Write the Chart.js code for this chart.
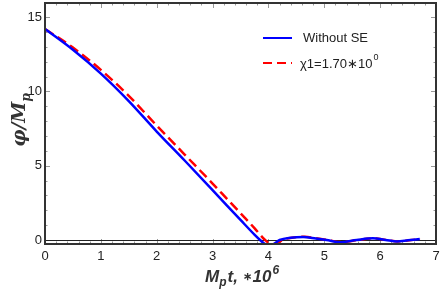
<!DOCTYPE html>
<html>
<head>
<meta charset="utf-8">
<script src="https://cdn.jsdelivr.net/npm/chart.js@4.4.1/dist/chart.umd.min.js"></script>
<style>
  body { margin: 0; background: #fff; }
  #wrap { width: 442px; height: 289px; position: relative; }
</style>
</head>
<body>
<div id="wrap"><canvas id="phiChart"></canvas></div>
<script>
// time in units of 10^6 / M_p
const tBlue = [0, 0.5, 1, 1.5, 2, 2.5, 3, 3.25, 3.5, 3.75, 3.85, 3.95, 4.05, 4.2, 4.4, 4.62, 4.85, 5.04, 5.28, 5.58, 5.87, 6.1, 6.3, 6.5, 6.71];
const phiBlue = [14.2, 12.8, 11.2, 9.35, 7.3, 5.35, 3.36, 2.35, 1.35, 0.36, 0.0, -0.3, -0.35, 0.0, 0.15, 0.2, 0.1, 0.0, -0.15, 0.0, 0.11, 0.0, -0.1, -0.02, 0.07];

const tRed = [0, 0.5, 1, 1.5, 2, 2.5, 3, 3.25, 3.5, 3.75, 3.94, 4.05, 4.15, 4.25, 4.45, 4.65, 4.88, 5.06, 5.3, 5.6, 5.88, 6.12, 6.32, 6.52, 6.72];
const phiRed = [14.2, 12.95, 11.45, 9.7, 7.7, 5.75, 3.8, 2.8, 1.8, 0.8, 0.0, -0.3, -0.25, 0.0, 0.17, 0.22, 0.1, 0.0, -0.14, 0.0, 0.1, 0.0, -0.1, -0.02, 0.06];

const xTicks = [0, 1, 2, 3, 4, 5, 6, 7];
const yTicks = [0, 5, 10, 15];
const legendLabels = ["Without SE", "\u03C71=1.70\u221710"];

const toPts = (xs, ys) => xs.map((x, i) => ({ x: x, y: ys[i] }));

// frame, zero line, inward ticks, axis titles, legend
const decor = {
  id: 'decor',
  beforeDatasetsDraw(chart) {
    const { ctx, chartArea: a, scales: { x, y } } = chart;
    ctx.save();
    ctx.strokeStyle = '#999';
    ctx.lineWidth = 1;
    for (let v = 0; v <= 7.001; v += 0.2) {
      const px = Math.round(x.getPixelForValue(v)) + 0.5;
      const major = Math.abs(v - Math.round(v)) < 0.01;
      const len = major ? 5 : 2.5;
      ctx.beginPath();
      ctx.moveTo(px, a.bottom); ctx.lineTo(px, a.bottom - len);
      ctx.moveTo(px, a.top); ctx.lineTo(px, a.top + len);
      ctx.stroke();
    }
    for (let v = 0; v <= 15; v += 1) {
      const py = Math.round(y.getPixelForValue(v)) + 0.5;
      const len = v % 5 === 0 ? 5 : 2.5;
      ctx.beginPath();
      ctx.moveTo(a.left, py); ctx.lineTo(a.left + len, py);
      ctx.moveTo(a.right, py); ctx.lineTo(a.right - len, py);
      ctx.stroke();
    }
    // zero line
    const y0 = Math.round(y.getPixelForValue(0)) + 0.5;
    ctx.strokeStyle = '#222';
    ctx.lineWidth = 1.2;
    ctx.beginPath();
    ctx.moveTo(a.left, y0); ctx.lineTo(a.right, y0);
    ctx.stroke();
    ctx.restore();
  },
  afterDraw(chart) {
    const { ctx, chartArea: a } = chart;
    ctx.save();
    ctx.strokeStyle = '#333';
    ctx.lineWidth = 2;
    ctx.strokeRect(a.left, a.top, a.right - a.left, a.bottom - a.top);

    // x title
    ctx.fillStyle = '#333';
    ctx.textBaseline = 'alphabetic';
    ctx.textAlign = 'left';
    let cx = 205, cy = 282;
    ctx.font = 'italic bold 17px "Liberation Sans"';
    ctx.fillText('M', cx, cy); cx += ctx.measureText('M').width;
    ctx.font = 'italic bold 12px "Liberation Sans"';
    ctx.fillText('p', cx, cy + 4); cx += ctx.measureText('p').width + 1;
    ctx.font = 'italic bold 17px "Liberation Sans"';
    ctx.fillText('t, ', cx, cy); cx += ctx.measureText('t, ').width;
    ctx.font = 'bold 11px "Liberation Sans"';
    ctx.fillText('\u2217', cx, cy - 2); cx += ctx.measureText('\u2217').width + 1;
    ctx.font = 'italic bold 17px "Liberation Sans"';
    ctx.fillText('10', cx, cy); cx += ctx.measureText('10').width;
    ctx.font = 'italic bold 12px "Liberation Sans"';
    ctx.fillText('6', cx + 1, cy - 8);

    // y title, rotated
    ctx.save();
    ctx.translate(25, 120);
    ctx.rotate(-Math.PI / 2);
    ctx.font = 'italic bold 19px "DejaVu Serif"';
    const w1 = ctx.measureText('\u03C6/M').width;
    ctx.font = 'italic bold 12px "DejaVu Serif"';
    const w2 = ctx.measureText('p').width;
    let tx = -(w1 + w2) / 2;
    ctx.font = 'italic bold 19px "DejaVu Serif"';
    ctx.fillText('\u03C6/M', tx, 0); tx += w1;
    ctx.font = 'italic bold 12px "DejaVu Serif"';
    ctx.fillText('p', tx, 5);
    ctx.restore();

    // legend
    ctx.lineWidth = 2;
    ctx.strokeStyle = '#0000ff';
    ctx.beginPath(); ctx.moveTo(263, 38); ctx.lineTo(292, 38); ctx.stroke();
    ctx.strokeStyle = '#ff0000';
    ctx.setLineDash([9, 5]);
    ctx.beginPath(); ctx.moveTo(263, 63); ctx.lineTo(292, 63); ctx.stroke();
    ctx.setLineDash([]);
    ctx.fillStyle = '#222';
    ctx.font = '13px "Liberation Sans"';
    ctx.textBaseline = 'middle';
    ctx.fillText(legendLabels[0], 303, 38);
    ctx.fillText(legendLabels[1], 300, 64);
    const lw = ctx.measureText(legendLabels[1]).width;
    ctx.font = '9px "Liberation Sans"';
    ctx.fillText('0', 300 + lw + 1, 58);
    ctx.restore();
  }
};

new Chart(document.getElementById('phiChart'), {
  type: 'line',
  data: {
    datasets: [
      {
        label: legendLabels[0],
        data: toPts(tBlue, phiBlue),
        borderColor: '#0000ff',
        borderWidth: 2.5,
        pointRadius: 0,
        cubicInterpolationMode: 'monotone'
      },
      {
        label: legendLabels[1],
        data: toPts(tRed, phiRed),
        borderColor: '#ff0000',
        borderWidth: 2.5,
        borderDash: [10, 5],
        pointRadius: 0,
        cubicInterpolationMode: 'monotone'
      }
    ]
  },
  options: {
    responsive: true,
    maintainAspectRatio: false,
    animation: false,
    layout: { autoPadding: false, padding: { top: 3, right: 6, left: 0, bottom: 0 } },
    plugins: { legend: { display: false }, tooltip: { enabled: false } },
    scales: {
      x: {
        type: 'linear',
        min: 0,
        max: 7,
        afterBuildTicks: s => { s.ticks = xTicks.map(v => ({ value: v })); },
        afterFit: s => { s.height = 45; s.paddingLeft = 0; s.paddingRight = 0; },
        grid: { display: false, drawTicks: false },
        border: { display: false },
        ticks: { color: '#222', padding: 5, font: { family: 'Liberation Sans', size: 13 } }
      },
      y: {
        type: 'linear',
        min: -0.27,
        max: 15.95,
        afterBuildTicks: s => { s.ticks = yTicks.map(v => ({ value: v })); },
        afterFit: s => { s.width = 45; s.paddingTop = 0; s.paddingBottom = 0; },
        grid: { display: false, drawTicks: false },
        border: { display: false },
        ticks: { color: '#222', padding: 3, font: { family: 'Liberation Sans', size: 13 } }
      }
    }
  },
  plugins: [decor]
});
</script>
</body>
</html>
